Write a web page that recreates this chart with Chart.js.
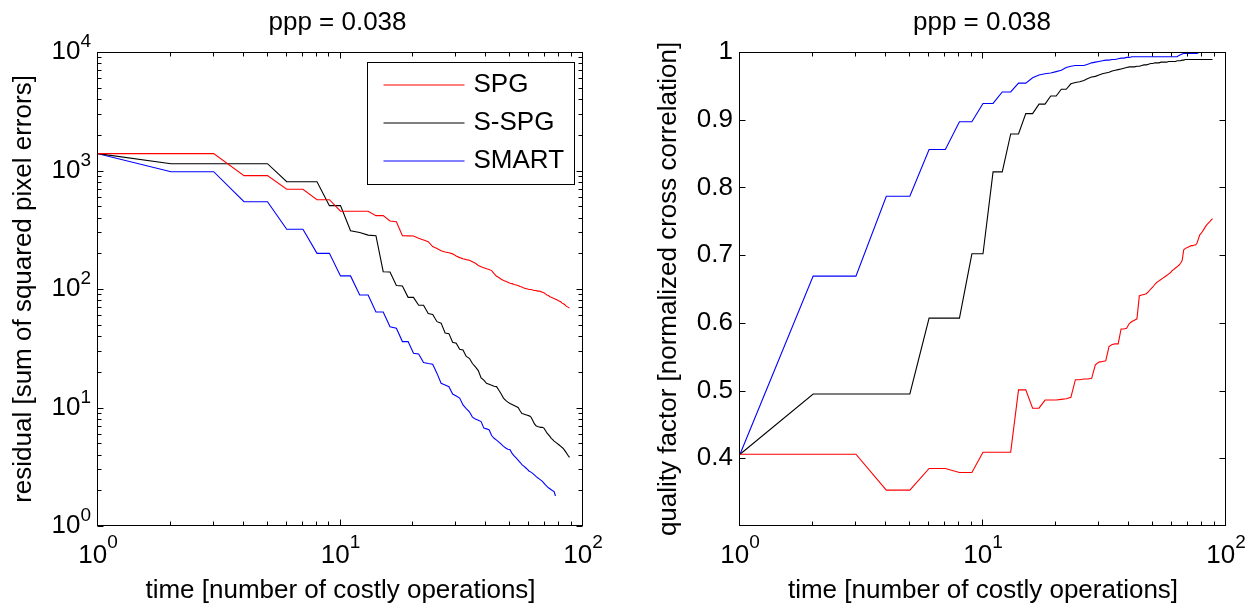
<!DOCTYPE html>
<html><head><meta charset="utf-8">
<script src="https://cdn.jsdelivr.net/npm/chart.js@4.4.1/dist/chart.umd.min.js"></script>
<style>
html,body{margin:0;padding:0;background:#fff;width:1254px;height:608px;overflow:hidden}
.box{position:absolute;top:0;width:627px;height:608px}
#wl{left:0}
#wr{left:627px}
</style></head><body>
<div class="box" id="wl"><canvas id="cl" width="627" height="608"></canvas></div>
<div class="box" id="wr"><canvas id="cr" width="627" height="608"></canvas></div>
<script>
// ---------- data ----------
const seriesLabels = ['SPG', 'S-SPG', 'SMART'];
const plotTitle = 'ppp = 0.038';
const xAxisTitle = 'time [number of costly operations]';
const yTitleResidual = 'residual [sum of squared pixel errors]';
const yTitleQuality = 'quality factor [normalized cross correlation]';

const timeSteps = [1,2,3,4,5,6,7,8,9,10,11,12,13,14,15,16,17,18,19,20,21,22,23,24,25,26,27,28,29,30,
  31,32,33,34,35,36,37,38,39,40,41,42,43,44,45,46,47,48,49,50,51,52,53,54,55,56,57,58,59,60,
  61,62,63,64,65,66,67,68,69,70,71,72,73,74,75,76,77,78,79,80,81,82,83,84,85,86,87,88];

const residualSPG = [1387,1387,1387,906,906,694,694,567,567,453,
  453,453,453,416,416,375,370,282,281,280,
  268,259,251,228,220,210,205,202,198,190,
  184,180,177,175,170,165,158,154,151,148,
  146,143,135,128,125,121,118,116,114,112,
  111,109,108,107,105,104,102,101,100,99,
  99,98,97,97,96,96,95,94,93,91,
  89,88,86,85,84,83,82,81,80,79,
  78,76,75,74,72,71,70,69];
const residualSSPG = [1387,1141,1141,1141,1141,804,804,804,505,505,
  310,300,285,282,140,139,107,106,85,85,
  73,73,62,61,53,51.5,42.5,42,35.5,34.8,
  31,30.6,27,26,23.5,22,20.5,17.8,17,16,
  15.7,15.4,15.1,15,14,13,12,11.5,11.1,10.8,
  10.6,10.4,10.2,10,9.4,8.9,8.8,8.7,8.6,8.5,
  8.3,7.8,7.3,7.0,6.9,6.85,6.8,6.8,6.7,6.4,
  6.1,5.9,5.7,5.5,5.35,5.2,5.1,5.0,4.9,4.8,
  4.7,4.6,4.5,4.35,4.2,4.05,3.9,3.8];
const residualSMART = [1387,977,977,545,545,319,319,200,200,129,
  129,89,89,64,64,48,46.6,36,36,28.7,
  28.3,24,23.5,23.2,19.4,16,15.5,15,13,12.5,
  12,10.5,9.8,9.2,8.3,8.0,7.8,7.6,6.7,6.6,
  6.5,5.8,5.5,5.3,5.1,4.9,4.7,4.55,4.45,4.4,
  4.1,3.9,3.75,3.6,3.45,3.3,3.2,3.1,3.0,2.9,
  2.85,2.78,2.7,2.62,2.55,2.5,2.44,2.38,2.3,2.22,
  2.16,2.1,2.06,2.02,1.98,1.95,1.79];

const qualitySPG = [0.406,0.406,0.406,0.353,0.353,0.385,0.385,0.379,0.379,0.409,
  0.409,0.409,0.409,0.501,0.501,0.474,0.474,0.486,0.486,0.486,
  0.487,0.488,0.490,0.516,0.516,0.517,0.517,0.518,0.538,0.542,
  0.543,0.544,0.565,0.568,0.569,0.569,0.591,0.591,0.592,0.599,
  0.602,0.604,0.606,0.640,0.641,0.642,0.643,0.646,0.650,0.653,
  0.657,0.660,0.662,0.664,0.666,0.668,0.670,0.672,0.674,0.677,
  0.679,0.681,0.683,0.685,0.688,0.692,0.708,0.710,0.711,0.712,
  0.713,0.714,0.714,0.715,0.715,0.718,0.724,0.730,0.732,0.735,
  0.738,0.741,0.744,0.746,0.748,0.750,0.752,0.754];
const qualitySSPG = [0.406,0.495,0.495,0.495,0.495,0.607,0.607,0.607,0.702,0.702,
  0.823,0.823,0.879,0.879,0.909,0.909,0.923,0.923,0.935,0.935,
  0.945,0.945,0.953,0.955,0.956,0.958,0.961,0.963,0.964,0.966,
  0.968,0.969,0.970,0.972,0.973,0.974,0.975,0.976,0.977,0.978,
  0.978,0.978,0.979,0.979,0.980,0.981,0.981,0.982,0.983,0.983,
  0.984,0.984,0.984,0.985,0.985,0.985,0.985,0.986,0.986,0.986,
  0.986,0.986,0.987,0.987,0.987,0.988,0.988,0.989,0.989,0.989,
  0.989,0.989,0.989,0.989,0.989,0.989,0.989,0.989,0.989,0.989,
  0.989,0.989,0.989,0.989,0.989,0.989,0.989,0.989];
const qualitySMART = [0.406,0.669,0.669,0.787,0.787,0.856,0.856,0.897,0.897,0.924,
  0.924,0.941,0.941,0.954,0.954,0.962,0.966,0.968,0.969,0.971,
  0.973,0.977,0.979,0.980,0.980,0.980,0.982,0.984,0.985,0.986,
  0.987,0.988,0.988,0.989,0.989,0.990,0.991,0.991,0.992,0.992,
  0.993,0.993,0.993,0.993,0.993,0.993,0.993,0.993,0.993,0.993,
  0.993,0.993,0.993,0.993,0.993,0.993,0.993,0.993,0.993,0.993,
  0.993,0.993,0.993,0.995,0.996,0.997,0.998,0.998,0.998,0.998,
  0.998,0.998,0.998,0.998,0.998,0.998,0.999];

const timeTicks = [1, 10, 100];
const residualTicks = [1, 10, 100, 1000, 10000];
const qualityTicks = [0.4, 0.5, 0.6, 0.7, 0.8, 0.9, 1.0];
const qualityTickLabels = ['0.4', '0.5', '0.6', '0.7', '0.8', '0.9', '1'];

const seriesColors = ['#ff0000', '#000000', '#0000ff'];
// ---------- rendering ----------
const FAM = '"Liberation Sans", Arial, Helvetica, sans-serif';
const FS = 26, SUP = 19;

function pts(xs, ys) { return ys.map((v, i) => ({x: xs[i], y: v})); }

function minorsFor(decades) {
  const out = [];
  for (let i = 0; i < decades.length - 1; i++) for (let m = 2; m < 10; m++) out.push(decades[i] * m);
  return out;
}

const matlabAxes = {
  id: 'matlabAxes',
  afterDraw(chart, args, o) {
    const {ctx, chartArea: a} = chart;
    const xs = chart.scales.x, ys = chart.scales.y;
    const L = Math.round(a.left) - 0.5, R = Math.round(a.right) - 0.5;
    const T = Math.round(a.top) + 0.5, B = Math.round(a.bottom) - 0.5;
    ctx.save();
    ctx.strokeStyle = '#000'; ctx.fillStyle = '#000'; ctx.lineWidth = 1;
    ctx.strokeRect(L, T, R - L, B - T);
    ctx.beginPath();
    const MAJ = 6, MIN = 4;
    const xt = (v, len) => { const p = Math.round(xs.getPixelForValue(v)) - 0.5; ctx.moveTo(p, B); ctx.lineTo(p, B - len); ctx.moveTo(p, T); ctx.lineTo(p, T + len); };
    const yt = (v, len) => { const p = Math.round(ys.getPixelForValue(v)) + 0.5; ctx.moveTo(L, p); ctx.lineTo(L + len, p); ctx.moveTo(R, p); ctx.lineTo(R - len, p); };
    o.xMajor.forEach(v => xt(v, MAJ));
    minorsFor(o.xMajor).forEach(v => xt(v, MIN));
    o.yMajor.forEach(v => yt(v, MAJ));
    if (o.yLog) minorsFor(o.yMajor).forEach(v => yt(v, MIN));
    ctx.stroke();

    // x tick labels (powers of ten)
    o.xMajor.forEach(v => {
      const p = xs.getPixelForValue(v);
      const e = String(Math.round(Math.log10(v)));
      ctx.font = FS + 'px ' + FAM; const wm = ctx.measureText('10').width;
      ctx.font = SUP + 'px ' + FAM; const we = ctx.measureText(e).width;
      const s = p - (wm + we) / 2, yMid = a.bottom + 30;
      ctx.textAlign = 'left'; ctx.textBaseline = 'middle';
      ctx.font = FS + 'px ' + FAM; ctx.fillText('10', s, yMid);
      ctx.font = SUP + 'px ' + FAM; ctx.fillText(e, s + wm, yMid - 13);
    });
    // y tick labels
    if (o.yLog) {
      o.yMajor.forEach(v => {
        const p = ys.getPixelForValue(v);
        const e = String(Math.round(Math.log10(v)));
        ctx.font = SUP + 'px ' + FAM; const we = ctx.measureText(e).width;
        ctx.textAlign = 'right'; ctx.textBaseline = 'middle';
        ctx.fillText(e, a.left - 7, p - 10);
        ctx.font = FS + 'px ' + FAM; ctx.fillText('10', a.left - 7 - we, p);
      });
    } else {
      o.yMajor.forEach((v, i) => {
        const p = ys.getPixelForValue(v);
        ctx.font = FS + 'px ' + FAM; ctx.textAlign = 'right'; ctx.textBaseline = 'middle';
        ctx.fillText(o.yLabels[i], a.left - 7, p);
      });
    }
    // plot title
    ctx.font = FS + 'px ' + FAM; ctx.textAlign = 'center'; ctx.textBaseline = 'alphabetic';
    ctx.fillText(o.title, (a.left + a.right) / 2 + o.titleShift, 29.5);

    // legend
    if (o.legend) {
      const bw = 207, bh = 122;
      const bx = Math.round(a.right - 9.5 - bw) + 0.5, by = Math.round(a.top + 10) + 0.5;
      ctx.fillStyle = '#fff'; ctx.fillRect(bx, by, bw, bh);
      ctx.strokeStyle = '#000'; ctx.lineWidth = 1; ctx.strokeRect(bx, by, bw, bh);
      const rows = [22, 60.3, 98.3];
      chart.data.datasets.forEach((ds, i) => {
        const yy = Math.round(by + rows[i]);
        ctx.strokeStyle = seriesColors[i]; ctx.lineWidth = 1.2;
        ctx.beginPath(); ctx.moveTo(bx + 16, yy); ctx.lineTo(bx + 97, yy); ctx.stroke();
        ctx.fillStyle = '#000'; ctx.font = FS + 'px ' + FAM; ctx.textAlign = 'left'; ctx.textBaseline = 'middle';
        ctx.fillText(ds.label, bx + 106, yy);
      });
    }
    ctx.restore();
  }
};

function makeDatasets(series) {
  return series.map((ys, i) => ({
    label: seriesLabels[i],
    data: pts(timeSteps, ys),
    borderColor: seriesColors[i],
    backgroundColor: seriesColors[i],
    borderWidth: 1.1, pointRadius: 0, tension: 0, fill: false
  }));
}

function axisTitle(text, pad) {
  return {display: true, text: text, color: '#000', font: {family: FAM, size: FS}, padding: pad};
}

function makeChart(id, series, yCfg, yTitle, yTitlePad, yWidth, padRight, pluginOpts) {
  return new Chart(document.getElementById(id), {
    type: 'line',
    data: {datasets: makeDatasets(series)},
    options: {
      responsive: false, animation: false, maintainAspectRatio: false,
      layout: {padding: {top: 52, right: padRight, left: 0, bottom: 0}},
      plugins: {legend: {display: false}, tooltip: {enabled: false}, title: {display: false}, matlabAxes: pluginOpts},
      scales: {
        x: {type: 'logarithmic', min: 1, max: 100,
            ticks: {display: false}, grid: {display: false}, border: {display: false},
            title: axisTitle(xAxisTitle, {top: 0, bottom: 2}),
            afterFit(s) { s.height = 82; }},
        y: Object.assign({ticks: {display: false}, grid: {display: false}, border: {display: false},
            title: axisTitle(yTitle, {top: yTitlePad, bottom: 0}),
            afterFit(s) { s.width = yWidth; }}, yCfg)
      }
    },
    plugins: [matlabAxes]
  });
}

makeChart('cl', [residualSPG, residualSSPG, residualSMART],
  {type: 'logarithmic', min: 1, max: 10000}, yTitleResidual, 8, 98, 44,
  {xMajor: timeTicks, yMajor: residualTicks, yLog: true, title: plotTitle, titleShift: -3, legend: true});

makeChart('cr', [qualitySPG, qualitySSPG, qualitySMART],
  {type: 'linear', min: 0.3, max: 1}, yTitleQuality, 26.4, 113, 28,
  {xMajor: timeTicks, yMajor: qualityTicks, yLabels: qualityTickLabels, yLog: false, title: plotTitle, titleShift: -1, legend: false});
</script>
</body></html>
